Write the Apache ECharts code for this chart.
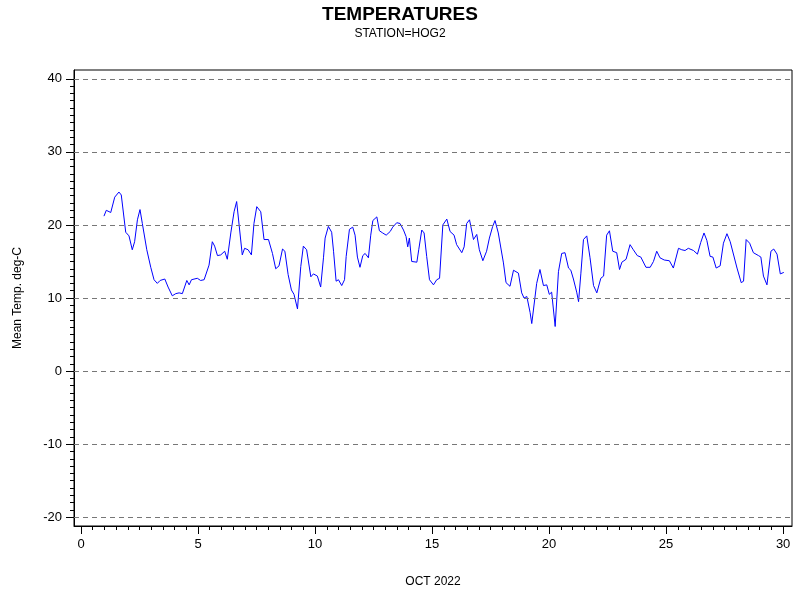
<!DOCTYPE html>
<html>
<head>
<meta charset="utf-8">
<script src="https://cdn.jsdelivr.net/npm/echarts@6/dist/echarts.min.js"></script>
<style>html,body{margin:0;padding:0;background:#fff}#chart{width:800px;height:600px}</style>
</head>
<body>
<div id="chart"></div>
<script>
// day of month, mean temperature
var days = [0.98,1.08,1.27,1.44,1.62,1.72,1.91,2.05,2.19,2.29,2.41,2.52,2.62,2.81,2.98,3.12,3.26,3.38,3.58,3.72,3.90,4.05,4.19,4.33,4.52,4.62,4.72,4.97,5.11,5.26,5.47,5.61,5.71,5.83,5.97,6.14,6.25,6.40,6.54,6.65,6.72,6.89,6.99,7.14,7.28,7.39,7.51,7.68,7.82,8.01,8.18,8.32,8.46,8.61,8.71,8.85,8.99,9.10,9.25,9.39,9.50,9.64,9.82,9.93,10.10,10.24,10.36,
  10.43,10.57,10.71,10.79,10.90,11.00,11.14,11.26,11.33,11.47,11.61,11.71,11.81,11.92,12.04,12.14,12.28,12.38,12.47,12.64,12.75,12.89,13.04,13.21,13.32,13.49,13.63,13.78,13.89,13.96,14.03,14.13,14.35,14.43,14.56,14.66,14.77,14.89,15.06,15.20,15.32,15.46,15.63,15.77,15.94,16.05,16.27,16.37,16.48,16.60,16.77,16.91,17.02,17.17,17.33,17.45,17.59,17.69,17.83,17.91,18.05,18.16,18.33,18.48,18.55,18.69,18.83,18.93,19.05,19.19,19.26,19.33,19.47,19.61,19.76,19.90,20.01,
  20.11,20.26,20.40,20.54,20.68,20.83,20.93,21.04,21.18,21.26,21.36,21.47,21.61,21.75,21.90,22.04,22.21,22.33,22.46,22.58,22.72,22.89,23.01,23.11,23.29,23.46,23.60,23.77,23.92,24.14,24.32,24.46,24.60,24.74,24.92,25.14,25.31,25.53,25.67,25.81,25.95,26.17,26.34,26.48,26.62,26.74,26.88,27.00,27.14,27.31,27.45,27.60,27.74,28.03,28.21,28.31,28.42,28.57,28.73,28.95,29.05,29.16,29.31,29.48,29.60,29.74,29.88,30.03];
var temps = [21.2,22.0,21.7,23.8,24.5,24.1,19.0,18.5,16.6,17.7,20.7,22.1,20.2,16.6,14.2,12.5,12.0,12.4,12.6,11.5,10.3,10.6,10.7,10.6,12.4,11.8,12.5,12.7,12.4,12.5,14.5,17.7,17.1,15.8,15.9,16.4,15.3,18.9,21.8,23.2,23.0,15.9,16.8,16.6,15.9,20.2,22.5,21.8,18.0,18.0,16.1,14.0,14.4,16.7,16.4,13.2,11.1,10.5,8.5,14.3,17.1,16.6,12.9,13.3,13.0,11.5,15.5,
  18.2,19.8,19.0,16.4,12.3,12.5,11.7,12.5,15.7,19.4,19.7,18.6,15.6,14.2,15.8,16.1,15.5,18.6,20.6,21.1,19.2,18.9,18.6,19.1,19.7,20.3,20.2,19.3,18.4,17.0,18.2,15.0,14.9,16.6,19.3,18.9,15.7,12.5,11.8,12.5,12.7,20.0,20.8,19.1,18.6,17.3,16.2,17.0,20.2,20.7,18.0,18.7,16.6,15.1,16.4,18.2,19.8,20.6,18.9,19.0,14.8,12.1,11.6,13.8,13.8,13.4,10.7,10.0,10.2,8.0,6.5,6.7,12.0,13.9,11.7,11.8,10.5,
  10.8,6.1,13.6,16.1,16.2,14.1,13.8,12.6,10.8,9.5,13.4,18.0,18.5,15.5,11.7,10.7,12.7,13.0,18.6,19.2,16.4,16.2,13.9,14.9,15.3,17.3,16.6,15.8,15.6,14.2,14.2,15.0,16.4,15.5,15.2,15.1,14.1,16.8,16.6,16.5,16.8,16.5,16.0,17.6,18.9,17.9,15.7,15.6,14.1,14.4,17.5,18.8,17.7,14.1,12.1,12.3,18.0,17.5,16.2,15.8,15.6,13.0,11.8,16.4,16.7,16.0,13.3,13.5];
var xTicks = [0,5,10,15,20,25,30];
var yTicks = [-20,-10,0,10,20,30,40];
var xMinor = [], yMinor = [];
for (var i = 0; i <= 60; i++) xMinor.push(i * 0.5);
for (var j = -20; j <= 40; j++) yMinor.push(j);

var font = 'Liberation Sans';
var lbl = {color:'#000', fontFamily:font, fontSize:13};
var chart = echarts.init(document.getElementById('chart'));
chart.setOption({
  animation:false,
  title:{text:'TEMPERATURES', subtext:'STATION=HOG2', left:'center', top:0, itemGap:4,
    textStyle:{fontFamily:font, fontSize:19, fontWeight:'bold', color:'#000'},
    subtextStyle:{fontFamily:font, fontSize:12, color:'#000'}},
  grid:{left:74, right:8, top:70, bottom:74, show:true, borderColor:'#000', borderWidth:1, backgroundColor:'transparent'},
  xAxis:[
    {type:'value', min:-0.3, max:30.38, name:'OCT 2022', nameLocation:'middle', nameGap:50,
     nameTextStyle:{fontFamily:font, fontSize:12, color:'#000'},
     axisLine:{show:true, onZero:false, lineStyle:{color:'#000'}},
     axisTick:{show:true, length:8, customValues:xTicks, lineStyle:{color:'#000'}},
     axisLabel:Object.assign({customValues:xTicks, margin:12}, lbl),
     splitLine:{show:false}},
    {type:'value', min:-0.3, max:30.38, position:'bottom',
     axisLine:{show:false, onZero:false}, axisLabel:{show:false}, splitLine:{show:false},
     axisTick:{show:true, length:4, customValues:xMinor, lineStyle:{color:'#000'}}}
  ],
  yAxis:[
    {type:'value', min:-21.2, max:41.2, name:'Mean Temp. deg-C', nameLocation:'middle', nameGap:50,
     nameTextStyle:{fontFamily:font, fontSize:12, color:'#000'},
     axisLine:{show:true, onZero:false, lineStyle:{color:'#000'}},
     axisTick:{show:true, length:8, customValues:yTicks, lineStyle:{color:'#000'}},
     axisLabel:Object.assign({customValues:yTicks, margin:12}, lbl),
     splitLine:{show:false}},
    {type:'value', min:-21.2, max:41.2, position:'left',
     axisLine:{show:false, onZero:false}, axisLabel:{show:false}, splitLine:{show:false},
     axisTick:{show:true, length:4, customValues:yMinor, lineStyle:{color:'#000'}}}
  ],
  series:[{
    type:'line', showSymbol:false, symbol:'none',
    data:days.map(function(d,k){return [d, temps[k]];}),
    lineStyle:{color:'#0000ff', width:1},
    markLine:{silent:true, symbol:'none', label:{show:false},
      lineStyle:{color:'#777', type:[5,4], width:1},
      data:yTicks.map(function(v){return {yAxis:v};})}
  }]
});
</script>
</body>
</html>
